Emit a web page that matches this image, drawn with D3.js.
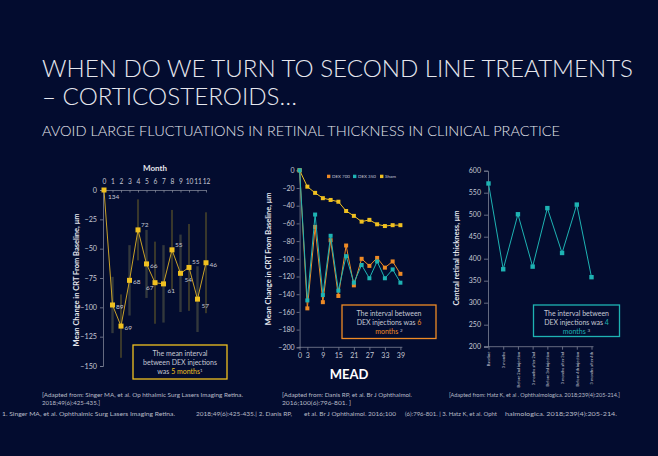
<!DOCTYPE html>
<html>
<head>
<meta charset="utf-8">
<script src="https://cdn.jsdelivr.net/npm/d3@7/dist/d3.min.js"></script>
<style>
  html, body { margin: 0; padding: 0; background: #030c2f; }
  svg { display: block; }
  text { font-family: Lato, "Open Sans", sans-serif; }
</style>
</head>
<body>
<svg id="slide" width="658" height="456"></svg>
<script>
// ---- Singer 2018: monthly mean CRT change (left panel) ----
const singerMonths = [0, 1, 2, 3, 4, 5, 6, 7, 8, 9, 10, 11, 12];
const singerChange = [0, -98, -116, -77, -34, -63, -79, -80, -51, -71, -66, -93, -62];
const singerSD     = [0, 24, 27, 30, 26, 29, 35, 33, 34, 33, 37, 28, 43];
const singerN      = ["134", "89", "69", "68", "72", "66", "67", "61", "55", "54", "55", "57", "46"];
const singerLabelSide = ["br", "r", "r", "r", "ar", "r", "bl", "br", "ar", "br", "ar", "br", "r"];
const singerTicks  = [0, -25, -50, -75, -100, -125, -150];

// ---- MEAD: mean CRT change by study month (middle panel) ----
const meadMonths = [0, 3, 6, 9, 12, 15, 18, 21, 24, 27, 30, 33, 36, 39];
const meadDex700 = [0, -156, -64, -149, -79, -142, -85, -130, -100, -108, -99, -110, -103, -117];
const meadDex350 = [0, -147, -50, -141, -74, -136, -97, -127, -107, -122, -103, -122, -112, -127];
const meadSham   = [0, -18.5, -25.5, -31.5, -33.5, -35.5, -46, -51.5, -58, -56, -61, -63, -62, -62];
const meadSeries = ["DEX 700", "DEX 350", "Sham"];
const meadXTicks = [0, 3, 9, 15, 21, 27, 33, 39];
const meadYTicks = [0, -20, -40, -60, -80, -100, -120, -140, -160, -180, -200];

// ---- Hatz 2018: central retinal thickness by visit (right panel) ----
const hatzVisits = ["Baseline", "3 months", "Before 2nd injection", "3 months after 2nd",
                    "Before 3rd injection", "3 months after 3rd", "Before 4th injection", "3 months after 4th"];
const hatzCRT    = [571, 376, 501, 382, 515, 413, 523, 358];
const hatzTicks  = [200, 250, 300, 350, 400, 450, 500, 550, 600];

const COL = {
  bg: "#030c2f", text: "#e6e7ee", soft: "#c5c8d4", axis: "#7d8396",
  gold: "#f0c020", goldLine: "#c9a227", orange: "#ee8a25", teal: "#1eb3b3"
};

const svg = d3.select("#slide");
svg.append("rect").attr("width", 658).attr("height", 456).attr("fill", COL.bg);

// ---- Headline ----
svg.append("text").attr("x", 42).attr("y", 77)
  .attr("font-size", 24).attr("font-weight", 300).attr("fill", COL.text)
  .attr("textLength", 591).attr("lengthAdjust", "spacingAndGlyphs")
  .text("WHEN DO WE TURN TO SECOND LINE TREATMENTS");
svg.append("text").attr("x", 42).attr("y", 105)
  .attr("font-size", 24).attr("font-weight", 300).attr("fill", COL.text)
  .attr("textLength", 255).attr("lengthAdjust", "spacingAndGlyphs")
  .text("– CORTICOSTEROIDS…");
svg.append("text").attr("x", 42).attr("y", 136)
  .attr("font-size", 13.5).attr("font-weight", 300).attr("fill", COL.text)
  .attr("textLength", 518).attr("lengthAdjust", "spacingAndGlyphs")
  .text("AVOID LARGE FLUCTUATIONS IN RETINAL THICKNESS IN CLINICAL PRACTICE");

function styleAxis(g, size) {
  g.selectAll("path, line").attr("stroke", COL.axis).attr("stroke-width", 0.8);
  g.selectAll("text").attr("fill", COL.soft).attr("font-size", size)
    .attr("font-family", "Lato, sans-serif");
}

function infoBox(x, y, w, h, color, lines) {
  const g = svg.append("g");
  g.append("rect").attr("x", x).attr("y", y).attr("width", w).attr("height", h)
    .attr("fill", "none").attr("stroke", color).attr("stroke-width", 1.3);
  lines.forEach((parts, i) => {
    const t = g.append("text").attr("x", x + w / 2).attr("y", y + 11 + i * 9)
      .attr("text-anchor", "middle").attr("font-size", 7).attr("fill", COL.soft);
    parts.forEach(p => {
      const ts = t.append("tspan").text(p.t).attr("fill", p.c || COL.soft);
      if (p.sup) ts.attr("font-size", 4.5).attr("baseline-shift", "super");
    });
  });
}

// ================= Left panel =================
{
  const x = d3.scaleLinear().domain([0, 12]).range([104, 206]);
  const y = d3.scaleLinear().domain([0, -150]).range([190, 366]);

  const xa = svg.append("g").attr("transform", `translate(0,${y(0)})`)
    .call(d3.axisTop(x).tickValues(singerMonths).tickSizeInner(-2.5).tickSizeOuter(0).tickPadding(6));
  styleAxis(xa, 6.6);
  svg.append("text").attr("x", x(6)).attr("y", 171).attr("text-anchor", "middle")
    .attr("font-size", 8).attr("font-weight", 700).attr("fill", COL.text).text("Month");

  const ya = svg.append("g").attr("transform", `translate(${x(0) - 1},0)`)
    .call(d3.axisLeft(y).tickValues(singerTicks).tickSize(3).tickPadding(3));
  styleAxis(ya, 7.2);
  svg.append("text").attr("transform", `translate(79,${(y(0) + y(-150)) / 2 + 2}) rotate(-90)`)
    .attr("text-anchor", "middle").attr("font-size", 7.5).attr("font-weight", 700)
    .attr("fill", COL.text).text("Mean Change in CRT From Baseline, μm");

  // ±SD whiskers
  singerMonths.forEach((m, i) => {
    if (!singerSD[i]) return;
    const odd = i % 2 === 1;
    svg.append("line").attr("x1", x(m)).attr("x2", x(m))
      .attr("y1", y(singerChange[i] + singerSD[i])).attr("y2", y(singerChange[i] - singerSD[i]))
      .attr("stroke", odd ? "#33383c" : "#6e6228").attr("stroke-width", odd ? 2.4 : 1);
  });

  const pts = singerMonths.map((m, i) => [m, singerChange[i]]);
  svg.append("path").datum(pts)
    .attr("d", d3.line().x(d => x(d[0])).y(d => y(d[1])))
    .attr("fill", "none").attr("stroke", COL.goldLine).attr("stroke-width", 1);
  svg.selectAll(".sq").data(pts).join("rect")
    .attr("x", d => x(d[0]) - 2.5).attr("y", d => y(d[1]) - 2.5)
    .attr("width", 5).attr("height", 5).attr("fill", COL.gold);

  const off = { r: [3.5, 4], br: [4, 9], ar: [3, -3], bl: [-9, 7] };
  pts.forEach((d, i) => {
    const o = off[singerLabelSide[i]];
    svg.append("text").attr("x", x(d[0]) + o[0]).attr("y", y(d[1]) + o[1])
      .attr("font-size", 6.5).attr("fill", COL.soft).text(singerN[i]);
  });

  infoBox(133, 345, 94, 34, COL.gold, [
    [{ t: "The mean interval" }],
    [{ t: "between DEX injections" }],
    [{ t: "was " }, { t: "5 months", c: COL.gold }, { t: "1", sup: true }]
  ]);
}

// ================= Middle panel =================
{
  const x = d3.scaleLinear().domain([0, 39]).range([299.6, 400.4]);
  const y = d3.scaleLinear().domain([0, -200]).range([170.3, 347.3]);

  const ya = svg.append("g").attr("transform", `translate(${x(0)},0)`)
    .call(d3.axisLeft(y).tickValues(meadYTicks).tickSize(3).tickPadding(2));
  styleAxis(ya, 7);
  const xa = svg.append("g").attr("transform", `translate(0,${y(-200)})`)
    .call(d3.axisBottom(x).tickValues(meadXTicks).tickSize(3).tickSizeOuter(0).tickPadding(3));
  styleAxis(xa, 7);
  xa.select(".domain").attr("d", `M${x(0) - 1},0H${x(39) + 2}`);

  svg.append("text").attr("transform", `translate(271,${(y(0) + y(-200)) / 2}) rotate(-90)`)
    .attr("text-anchor", "middle").attr("font-size", 7.5).attr("font-weight", 700)
    .attr("fill", COL.text).text("Mean Change in CRT From Baseline, μm");
  svg.append("text").attr("x", 349).attr("y", 379).attr("text-anchor", "middle")
    .attr("font-size", 13).attr("font-weight", 700).attr("fill", "#ffffff")
    .attr("font-family", "'Liberation Sans Narrow', 'DejaVu Sans Condensed', sans-serif")
    .text("MEAD");

  const colors = [COL.orange, COL.teal, COL.gold];
  const series = [meadDex700, meadDex350, meadSham];
  [2, 0, 1].forEach(k => {
    const pts = meadMonths.map((m, i) => [m, series[k][i]]);
    svg.append("path").datum(pts)
      .attr("d", d3.line().x(d => x(d[0])).y(d => y(d[1])))
      .attr("fill", "none").attr("stroke", colors[k]).attr("stroke-width", 1);
    svg.append("g").selectAll("rect").data(pts).join("rect")
      .attr("x", d => x(d[0]) - 2).attr("y", d => y(d[1]) - 2)
      .attr("width", 4).attr("height", 4).attr("fill", colors[k]);
  });

  // legend
  const lx = [327, 353, 380];
  meadSeries.forEach((name, k) => {
    svg.append("rect").attr("x", lx[k]).attr("y", 174.7).attr("width", 3.4).attr("height", 3.4)
      .attr("fill", colors[k]);
    svg.append("text").attr("x", lx[k] + 5).attr("y", 178).attr("font-size", 4.5)
      .attr("fill", COL.soft).text(name);
  });

  infoBox(342, 305, 94, 33.5, COL.orange, [
    [{ t: "The interval between" }],
    [{ t: "DEX injections was    " }, { t: "6", c: COL.orange }],
    [{ t: "months ", c: COL.orange }, { t: "2", sup: true, c: COL.soft }]
  ]);
}

// ================= Right panel =================
{
  const x = d3.scalePoint().domain(hatzVisits).range([488.5, 591.5]);
  const y = d3.scaleLinear().domain([200, 600]).range([346.7, 170.7]);

  const ya = svg.append("g").attr("transform", `translate(488,0)`)
    .call(d3.axisLeft(y).tickValues(hatzTicks).tickSize(4).tickPadding(3));
  styleAxis(ya, 7);
  const xa = svg.append("g").attr("transform", `translate(0,${y(200)})`)
    .call(d3.axisBottom(x).tickSize(3).tickSizeOuter(0).tickPadding(3));
  styleAxis(xa, 4);
  xa.select(".domain").attr("d", `M484,0H${x(hatzVisits[7]) + 2}`);
  xa.selectAll(".tick text")
    .attr("transform", "rotate(-90)").attr("text-anchor", "end")
    .attr("x", -5).attr("y", 0).attr("dy", "0.35em").attr("font-size", 4);

  svg.append("text").attr("transform", `translate(459,258) rotate(-90)`)
    .attr("text-anchor", "middle").attr("font-size", 7.5).attr("font-weight", 700)
    .attr("fill", COL.text).text("Central retinal thickness, μm");

  const pts = hatzVisits.map((v, i) => [v, hatzCRT[i]]);
  svg.append("path").datum(pts)
    .attr("d", d3.line().x(d => x(d[0])).y(d => y(d[1])))
    .attr("fill", "none").attr("stroke", COL.teal).attr("stroke-width", 1);
  svg.append("g").selectAll("rect").data(pts).join("rect")
    .attr("x", d => x(d[0]) - 2.2).attr("y", d => y(d[1]) - 2.2)
    .attr("width", 4.4).attr("height", 4.4).attr("fill", COL.teal);

  infoBox(533.5, 305, 86, 31.5, COL.teal, [
    [{ t: "The interval between" }],
    [{ t: "DEX injections was    " }, { t: "4", c: COL.teal }],
    [{ t: "months ", c: COL.teal }, { t: "3", sup: true, c: COL.soft }]
  ]);
}

// ---- Sources: each run is fitted to its own span ----
function src(x0, x1, y, size, s) {
  svg.append("text").attr("x", x0).attr("y", y).attr("font-size", size)
    .attr("fill", "#b9bcc8").attr("textLength", x1 - x0).attr("lengthAdjust", "spacingAndGlyphs")
    .text(s);
}
src(42, 243, 397, 6, "[Adapted from: Singer MA, et al.  Op hthalmic Surg Lasers Imaging Retina.");
src(42, 100, 405, 6, "2018;49(6):425-435.]");
src(282, 412, 397, 6, "[Adapted from: Danis RP, et al. Br J Ophthalmol.");
src(282, 351, 405, 6, "2016;100(6):796-801. ]");
src(449, 620, 397, 6, "[Adapted from: Hatz K, et al . Ophthalmologica. 2018;239(4):205-214.]");

src(2, 175, 416, 6.2, "1. Singer MA, et al.  Ophthalmic Surg Lasers Imaging Retina.");
src(196, 292, 416, 6.2, "2018;49(6):425-435.| 2. Danis RP,");
src(304, 396, 416, 6.2, "et al. Br J Ophthalmol. 2016;100");
src(405, 497, 416, 6.2, "(6):796-801. | 3. Hatz K, et al. Opht");
src(505, 617, 416, 6.2, "halmologica. 2018;239(4):205-214.");
</script>
</body>
</html>
